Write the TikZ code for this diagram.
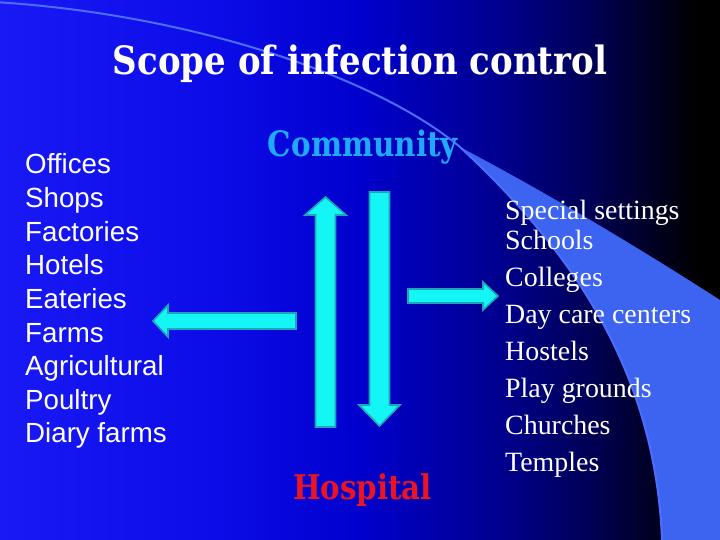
\documentclass[tikz,border=0pt]{standalone}
\usepackage{fontspec}
\usepackage{graphicx}
\setmainfont{Liberation Serif}
\newfontfamily\arialf{Liberation Sans}
\newfontfamily\slabf{DejaVu Serif}
\definecolor{bgA}{RGB}{25,25,245}
\definecolor{bgB}{RGB}{12,12,232}
\definecolor{bgC}{RGB}{0,0,205}
\definecolor{bgD}{RGB}{0,0,140}
\definecolor{bgE}{RGB}{0,0,85}
\definecolor{bgF}{RGB}{0,0,30}
\definecolor{wedgeblue}{RGB}{60,100,240}
\definecolor{arcblue}{RGB}{75,110,255}
\definecolor{arrowfill}{RGB}{20,245,245}
\definecolor{arrowline}{RGB}{30,165,185}
\definecolor{commblue}{RGB}{30,170,255}
\definecolor{hospred}{RGB}{235,20,35}
\pgfdeclarehorizontalshading{slidebg}{100bp}{color(0bp)=(bgA); color(25bp)=(bgA); color(40bp)=(bgB); color(50bp)=(bgC); color(60bp)=(bgD); color(66bp)=(bgE); color(70.8bp)=(bgF); color(73.6bp)=(black); color(100bp)=(black)}
\begin{document}
\begin{tikzpicture}[x=1pt,y=-1pt,
  fatarrow/.style={fill=arrowfill,draw=arrowline,line width=1.6pt,line join=miter},
  leftitem/.style={anchor=base west,inner sep=0pt,text=white,font=\arialf\fontsize{27.7}{30}\selectfont},
  rightitem/.style={anchor=base west,inner sep=0pt,text=white,font=\fontsize{27.9}{30}\selectfont},
  heading/.style={anchor=base,inner sep=0pt,font=\slabf\bfseries}]
\useasboundingbox (0,0) rectangle (720,540);
% background
\path[shading=slidebg] (0,0) rectangle (720,540);
\fill[wedgeblue] (460,147) .. controls (560,240) and (655,360) .. (662,540)
  -- (720,540) -- (720,300) .. controls (650,255) and (560,200) .. (460,147) -- cycle;
\draw[arcblue,line width=2pt] (-5,2) .. controls (200,15) and (380,80) .. (460,147)
  .. controls (560,240) and (655,360) .. (662,540);
% title
\node[heading,text=white] (title) at (360,75)
  {\resizebox{494pt}{\height}{\fontsize{39}{44}\selectfont Scope of infection control}};
\node[heading,text=commblue] (community) at (363,157)
  {\resizebox{190pt}{\height}{\fontsize{35}{40}\selectfont Community}};
\node[heading,text=hospred] (hospital) at (362.5,499)
  {\resizebox{139pt}{\height}{\fontsize{34}{40}\selectfont Hospital}};
% left list
\foreach \t [count=\i from 0] in {Offices,Shops,Factories,Hotels,Eateries,Farms,Agricultural,Poultry,Diary farms}
  \node[leftitem] (l\i) at (25,174+33.6*\i) {\t};
% right list
\node[rightitem] (r0) at (505,219) {Special settings};
\foreach \t [count=\i from 1] in {Schools,Colleges,Day care centers,Hostels,Play grounds,Churches,Temples}
  \node[rightitem] (r\i) at (505,212+37*\i) {\t};
% arrows
\filldraw[fatarrow] (325.5,197) -- (346,215) -- (335.5,215) -- (335.5,427) -- (315.5,427) -- (315.5,215) -- (305,215) -- cycle;
\filldraw[fatarrow] (379.5,426) -- (400,405) -- (389.5,405) -- (389.5,192) -- (369.5,192) -- (369.5,405) -- (359,405) -- cycle;
\filldraw[fatarrow] (498,296) -- (483,282) -- (483,289) -- (408,289) -- (408,303) -- (483,303) -- (483,310) -- cycle;
\filldraw[fatarrow] (153,321) -- (168,305) -- (168,313) -- (296,313) -- (296,329) -- (168,329) -- (168,337) -- cycle;
\end{tikzpicture}
\end{document}
